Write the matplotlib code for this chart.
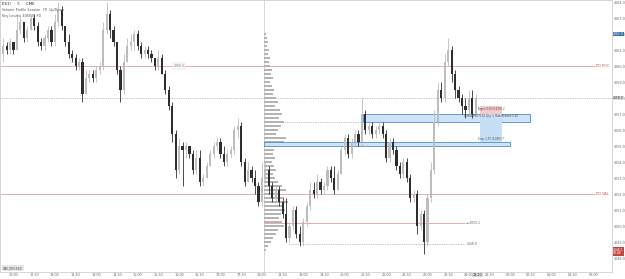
import matplotlib
matplotlib.use("Agg")
import matplotlib.pyplot as plt
import matplotlib.transforms as mtransforms
from matplotlib.patches import Rectangle
import numpy as np

# 5 min candles
opens = [4060.75, 4061.25, 4061.0, 4061.5, 4061.0, 4062.25, 4062.75, 4061.75, 4062.25, 4063.0,
         4062.5, 4061.5, 4061.25, 4061.75, 4062.25, 4061.5, 4062.75, 4063.5, 4062.5, 4061.5,
         4060.75, 4060.5, 4060.0, 4060.25, 4058.25, 4059.25, 4059.5, 4059.25, 4059.75, 4060.0,
         4062.25, 4063.25, 4062.25, 4061.5, 4059.75, 4058.5, 4060.25, 4061.25, 4061.5, 4062.0,
         4061.25, 4060.75, 4061.0, 4060.75, 4060.5, 4060.0, 4060.5, 4059.5, 4058.5, 4057.5,
         4055.75, 4053.5, 4055.0, 4054.75, 4055.0, 4054.5, 4053.5, 4054.25, 4052.75, 4053.0,
         4053.75, 4054.5, 4055.0, 4055.25, 4054.5, 4054.0, 4054.5, 4054.75, 4056.0, 4056.25,
         4054.0, 4052.75, 4053.5, 4053.0, 4052.5, 4051.5, 4053.0, 4053.5, 4052.5, 4051.75,
         4052.25, 4051.5, 4050.75, 4049.25, 4050.0, 4051.0, 4049.5, 4049.0, 4050.25, 4051.25,
         4052.25, 4052.0, 4052.75, 4052.25, 4052.5, 4053.5, 4053.0, 4052.25, 4053.25, 4054.75,
         4055.5, 4054.5, 4055.25, 4055.75, 4055.25, 4057.0, 4056.0, 4056.25, 4055.75, 4056.0,
         4056.25, 4055.75, 4054.25, 4055.25, 4054.75, 4053.75, 4053.25, 4054.0, 4053.0, 4051.75,
         4052.0, 4050.0, 4050.75, 4049.0, 4051.75, 4053.5, 4056.5, 4058.5, 4058.0, 4060.25,
         4061.0, 4059.5, 4058.5, 4058.0, 4057.5, 4057.25, 4058.0, 4057.0]
highs = [4061.75, 4061.5, 4061.75, 4061.5, 4063.25, 4063.25, 4062.75, 4062.5, 4063.25, 4063.25,
         4062.75, 4061.75, 4062.0, 4062.5, 4062.5, 4063.25, 4064.0, 4063.75, 4062.5, 4062.0,
         4061.0, 4060.75, 4060.5, 4060.5, 4059.75, 4059.75, 4059.75, 4060.0, 4060.25, 4062.75,
         4064.0, 4063.5, 4062.5, 4061.5, 4060.0, 4060.75, 4061.75, 4062.0, 4062.25, 4062.25,
         4061.5, 4061.25, 4061.25, 4061.0, 4060.5, 4061.0, 4060.75, 4059.75, 4058.75, 4057.75,
         4056.0, 4055.5, 4055.25, 4055.25, 4055.0, 4054.75, 4054.75, 4054.75, 4053.25, 4054.0,
         4054.75, 4055.25, 4055.5, 4055.5, 4055.0, 4054.75, 4055.0, 4056.25, 4056.75, 4056.5,
         4054.25, 4054.0, 4053.75, 4053.5, 4052.75, 4054.0, 4054.0, 4053.75, 4052.75, 4052.5,
         4052.5, 4051.75, 4051.75, 4050.25, 4051.25, 4051.25, 4050.0, 4050.5, 4051.5, 4052.75,
         4052.75, 4053.25, 4053.0, 4052.75, 4053.75, 4053.75, 4053.75, 4053.5, 4055.0, 4055.75,
         4055.75, 4055.5, 4056.0, 4056.0, 4058.0, 4057.25, 4056.5, 4056.5, 4056.25, 4056.5,
         4056.5, 4056.0, 4055.5, 4055.5, 4055.0, 4054.0, 4054.25, 4054.25, 4053.25, 4052.25,
         4052.25, 4051.0, 4051.0, 4052.0, 4054.0, 4057.25, 4059.0, 4059.0, 4060.75, 4061.75,
         4061.25, 4059.75, 4058.75, 4058.25, 4058.0, 4058.5, 4058.5, 4058.25]
lows = [4060.25, 4060.75, 4060.75, 4060.75, 4061.0, 4062.0, 4061.5, 4061.5, 4062.25, 4062.25,
        4061.25, 4061.0, 4061.0, 4061.5, 4061.25, 4061.25, 4062.5, 4062.25, 4061.25, 4060.5,
        4060.25, 4059.75, 4059.75, 4057.75, 4058.25, 4059.0, 4059.0, 4059.0, 4059.5, 4059.75,
        4062.0, 4061.75, 4061.25, 4059.5, 4057.75, 4058.25, 4060.25, 4061.0, 4061.0, 4061.0,
        4060.5, 4060.5, 4060.5, 4060.25, 4059.75, 4059.75, 4059.5, 4058.25, 4057.25, 4055.25,
        4053.0, 4053.25, 4052.5, 4054.25, 4054.25, 4053.25, 4053.25, 4052.5, 4052.5, 4053.0,
        4053.75, 4054.25, 4054.75, 4054.25, 4053.75, 4053.75, 4054.25, 4054.5, 4055.5, 4053.75,
        4052.5, 4052.75, 4052.75, 4052.0, 4051.25, 4051.25, 4052.75, 4052.0, 4051.5, 4051.5,
        4051.25, 4050.5, 4049.0, 4049.0, 4049.75, 4049.25, 4048.75, 4048.75, 4050.0, 4051.0,
        4051.75, 4051.75, 4052.0, 4052.0, 4052.25, 4052.75, 4052.0, 4052.25, 4053.25, 4054.5,
        4054.25, 4054.25, 4055.0, 4055.0, 4055.0, 4055.75, 4055.75, 4055.5, 4055.5, 4055.75,
        4055.5, 4054.0, 4054.0, 4054.5, 4053.5, 4053.0, 4053.0, 4052.75, 4051.5, 4051.5,
        4049.5, 4049.75, 4048.25, 4048.75, 4051.5, 4053.25, 4056.25, 4057.75, 4057.75, 4060.0,
        4059.0, 4058.0, 4057.75, 4057.0, 4056.75, 4057.0, 4056.75, 4057.0]
closes = [4061.25, 4061.0, 4061.5, 4061.0, 4062.25, 4062.75, 4061.75, 4062.25, 4063.0, 4062.5,
          4061.5, 4061.25, 4061.75, 4062.25, 4061.5, 4062.75, 4063.5, 4062.5, 4061.5, 4060.75,
          4060.5, 4060.0, 4060.25, 4058.25, 4059.25, 4059.5, 4059.25, 4059.75, 4060.0, 4062.25,
          4063.25, 4062.25, 4061.5, 4059.75, 4058.5, 4060.25, 4061.25, 4061.5, 4062.0, 4061.25,
          4060.75, 4061.0, 4060.75, 4060.5, 4060.0, 4060.5, 4059.5, 4058.5, 4057.5, 4055.75,
          4053.5, 4055.0, 4054.75, 4055.0, 4054.5, 4053.5, 4054.25, 4052.75, 4053.0, 4053.75,
          4054.5, 4055.0, 4055.25, 4054.5, 4054.0, 4054.5, 4054.75, 4056.0, 4056.25, 4054.0,
          4052.75, 4053.5, 4053.0, 4052.5, 4051.5, 4053.0, 4053.5, 4052.5, 4051.75, 4052.25,
          4051.5, 4050.75, 4049.25, 4050.0, 4051.0, 4049.5, 4049.0, 4050.25, 4051.25, 4052.25,
          4052.0, 4052.75, 4052.25, 4052.5, 4053.5, 4053.0, 4052.25, 4053.25, 4054.75, 4055.5,
          4054.5, 4055.25, 4055.75, 4055.25, 4057.0, 4056.0, 4056.25, 4055.75, 4056.0, 4056.25,
          4055.75, 4054.25, 4055.25, 4054.75, 4053.75, 4053.25, 4054.0, 4053.0, 4051.75, 4052.0,
          4050.0, 4050.75, 4049.0, 4051.75, 4053.5, 4056.5, 4058.5, 4058.0, 4060.25, 4061.0,
          4059.5, 4058.5, 4058.0, 4057.5, 4057.25, 4058.0, 4057.0, 4058.0]

time_labels = ["12:00", "12:30", "13:00", "13:30", "14:00", "14:30", "15:00", "15:30",
               "16:00", "16:30", "17:00", "17:30", "18:00", "18:30", "19:00", "19:30",
               "20:00", "20:30", "21:00", "21:30", "22:00", "22:30", "23:00", "23:30",
               "00:00", "00:30", "01:00", "01:30", "02:00"]
price_ticks = [4064.0, 4063.0, 4062.0, 4061.0, 4060.0, 4059.0, 4058.0, 4057.0, 4056.0,
               4055.0, 4054.0, 4053.0, 4052.0, 4051.0, 4050.0, 4049.0, 4048.0]

# session volume profile
profile_prices = [4062.0, 4061.75, 4061.5, 4061.25, 4061.0, 4060.75, 4060.5, 4060.25, 4060.0,
                  4059.75, 4059.5, 4059.25, 4059.0, 4058.75, 4058.5, 4058.25, 4058.0, 4057.75,
                  4057.5, 4057.25, 4057.0, 4056.75, 4056.5, 4056.25, 4056.0, 4055.75, 4055.5,
                  4055.25, 4055.0, 4054.75, 4054.5, 4054.25, 4054.0, 4053.75, 4053.5, 4053.25,
                  4053.0, 4052.75, 4052.5, 4052.25, 4052.0, 4051.75, 4051.5, 4051.25, 4051.0,
                  4050.75, 4050.5, 4050.25, 4050.0, 4049.75, 4049.5, 4049.25, 4049.0, 4048.75,
                  4048.5]
profile_volume = [2, 3, 4, 3, 5, 4, 6, 5, 6, 8, 7, 9, 6, 8, 10, 9, 12, 14, 11, 16, 18, 15, 20,
                  17, 14, 12, 22, 20, 12, 10, 9, 11, 8, 10, 12, 9, 11, 14, 18, 22, 16, 20, 24,
                  19, 21, 17, 15, 18, 20, 14, 12, 9, 7, 4, 2]

# key levels
pd_poc = 4060.0
pd_val = 4052.0
last_price = 4058.0
level_mid = 4050.2
level_low = 4048.9
zone_a = (4056.5, 4057.0)
zone_b = (4055.0, 4055.25)
entry, target, stop = 4057.0, 4057.5, 4055.25

UP = "#bdbdbd"
DOWN = "#2e2e2e"
RED = "#e08a8a"


def draw_candles(ax):
    o = np.array(opens)
    h = np.array(highs)
    l = np.array(lows)
    c = np.array(closes)
    x = np.arange(len(c))
    for mask, col in [(c >= o, UP), (c < o, DOWN)]:
        ax.vlines(x[mask], l[mask], h[mask], color=col, lw=0.6, zorder=3)
        body = np.maximum(np.abs(c[mask] - o[mask]), 0.06)
        ax.bar(x[mask], body, bottom=np.minimum(o[mask], c[mask]), width=0.62,
               color=col, lw=0, zorder=3)


def main():
    fig = plt.figure(figsize=(6.25, 2.79), dpi=100)
    ax = fig.add_axes([0.0, 7 / 279, 612 / 625, 272 / 279])
    ax.set_xlim(-0.91, 176.48)
    ax.set_ylim(4047.125, 4064.125)

    sess = 75.5
    last_bar = len(closes) - 1

    # session divider + volume profile
    ax.axvline(sess, color="#d2d2d2", lw=0.6, zorder=1)
    vol = np.array(profile_volume, dtype=float)
    ax.barh(profile_prices, vol / vol.max() * 7.0, left=sess, height=0.15,
            color="#b4b4b4", lw=0, zorder=2)

    # zones
    ax.add_patch(Rectangle((104.3, zone_a[0]), 152.7 - 104.3, zone_a[1] - zone_a[0],
                           facecolor="#cfe3f8", edgecolor="#4f8fc9", lw=0.6, zorder=2))
    ax.add_patch(Rectangle((sess, zone_b[0]), 146.9 - sess, zone_b[1] - zone_b[0],
                           facecolor="#cfe3f8", edgecolor="#4f8fc9", lw=0.6, zorder=2))

    # long position tool
    ax.add_patch(Rectangle((138.2, entry), 6.4, target - entry,
                           facecolor="#f6c9cc", edgecolor="none", zorder=4))
    ax.add_patch(Rectangle((138.2, stop), 6.4, entry - stop,
                           facecolor="#c6def6", edgecolor="none", zorder=4))
    ax.text(141.4, target - 0.08, "Target: 0.50 (0.01%) 2", fontsize=1.8,
            color="#444", ha="center", va="top", zorder=5)
    ax.text(141.4, entry - 0.12, "Closed P&L: 0.00, Qty: 1  Risk/Reward: 0.28",
            fontsize=1.8, color="#444", ha="center", va="center", zorder=5)
    ax.text(141.4, stop + 0.08, "Stop: 1.75 (0.04%) 7", fontsize=1.8,
            color="#444", ha="center", va="bottom", zorder=5)

    # horizontal levels
    ax.hlines(pd_poc, -1, 171.5, color=RED, lw=0.5, zorder=1)
    ax.hlines(pd_val, -1, 171.5, color=RED, lw=0.5, zorder=1)
    ax.text(171.7, pd_poc, "PD POC", fontsize=2.6, color="#d05656", va="center")
    ax.text(171.7, pd_val, "PD VAL", fontsize=2.6, color="#d05656", va="center")
    ax.text(49.5, pd_poc, "4060.0", fontsize=2.2, color="#666", va="center",
            bbox=dict(facecolor="white", edgecolor="#cccccc", lw=0.3, pad=0.4))
    ax.axhline(last_price, color="#8a8a8a", lw=0.5, ls=(0, (1, 1.5)), zorder=1)
    ax.hlines(zone_a[0], sess, 104.3, color="#8a8a8a", lw=0.5, ls=(0, (1, 1.5)), zorder=1)
    ax.hlines(level_mid, sess, 134.0, color=RED, lw=0.5, zorder=1)
    ax.text(134.3, level_mid, "\u25c4 4050.2", fontsize=2.2, color="#666", va="center")
    ax.hlines(level_low, 83, 134.0, color="#8a8a8a", lw=0.5, ls=(0, (1, 1.5)), zorder=1)
    ax.text(134.3, level_low, "4048.9", fontsize=2.2, color="#666", va="center")

    draw_candles(ax)

    # axes styling
    for s in ax.spines.values():
        s.set_color("#cfcfcf")
        s.set_linewidth(0.6)
    ax.yaxis.tick_right()
    ax.set_yticks(price_ticks)
    ax.set_yticklabels([f"{p:.1f}" for p in price_ticks])
    ax.set_xticks(np.arange(3, 3 + 6 * len(time_labels), 6))
    ax.set_xticklabels(time_labels)
    ax.tick_params(axis="both", length=0, labelsize=2.4, colors="#666666")
    ax.tick_params(axis="y", pad=1.2)
    ax.tick_params(axis="x", pad=0.8)
    for lab in ax.get_yticklabels():
        lab.set_clip_on(False)

    # price-scale badges
    tr = mtransforms.blended_transform_factory(ax.transAxes, ax.transData)
    for price, txt, fc, tc in [(4062.0, "4062.0", "#3b6fa3", "white"),
                               (last_price, "4058.0", "#d9d9d9", "#333"),
                               (4048.4, "4048.3\n03:48", "#c44545", "white")]:
        ax.text(1.002, price, txt, transform=tr, fontsize=2.2, color=tc, va="center",
                ha="left", linespacing=0.9, clip_on=False,
                bbox=dict(facecolor=fc, edgecolor="none", pad=0.3))
    ax.text(last_bar + 0.5, -2.8 / 272, "23:10", transform=mtransforms.blended_transform_factory(
        ax.transData, ax.transAxes), fontsize=2.4, color="#333", ha="center", va="center",
        clip_on=False, bbox=dict(facecolor="#d9d9d9", edgecolor="none", pad=0.3))

    # header and watermark box
    fig.text(2 / 625, 1 - 4 / 279, "ES1!  \u00b7  5  \u00b7  CME", fontsize=2.8,
             color="#222", va="center")
    fig.text(2 / 625, 1 - 10 / 279, "Volume Profile Session  70  Up/Down", fontsize=2.4,
             color="#555", va="center")
    fig.text(2 / 625, 1 - 16 / 279, "Key Levels  4060.0  PD", fontsize=2.4,
             color="#555", va="center")
    fig.text(3 / 625, 1 - 268 / 279, "CME_MINI:ES1!", fontsize=2.0, color="#444",
             va="center", bbox=dict(facecolor="#e6e6e6", edgecolor="none", pad=0.5))

    fig.savefig("out.png", dpi=100, facecolor="white")


if __name__ == '__main__':
    main()
